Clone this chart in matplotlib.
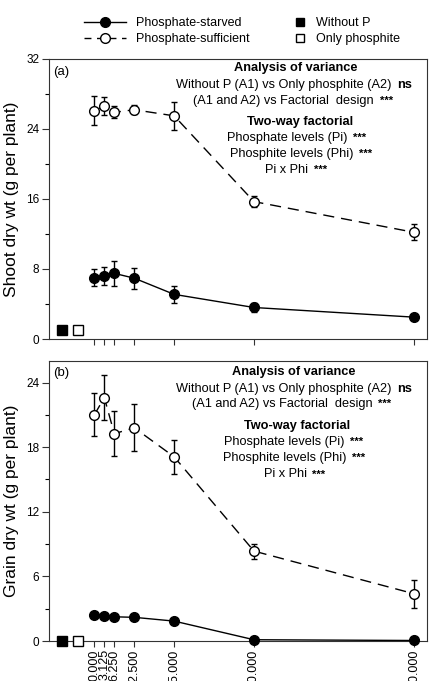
import matplotlib
matplotlib.use("Agg")
import matplotlib.pyplot as plt
from matplotlib.lines import Line2D
from matplotlib.ticker import MultipleLocator

plt.rcParams['font.family'] = ['Liberation Sans', 'DejaVu Sans']

# phosphite levels (x) and control treatments
phi_levels = [0.0, 3.125, 6.25, 12.5, 25.0, 50.0, 100.0]
ctrl_x = [-10.0, -5.0]

# shoot dry weight (g per plant)
shoot_starved = [7.0, 7.2, 7.5, 6.95, 5.1, 3.6, 2.5]
shoot_starved_err = [1.0, 1.0, 1.4, 1.2, 1.0, 0.5, 0.15]
shoot_suff = [26.1, 26.6, 25.9, 26.2, 25.5, 15.7, 12.2]
shoot_suff_err = [1.7, 1.0, 0.7, 0.5, 1.6, 0.6, 0.9]
shoot_ctrl = [1.05, 1.05]
shoot_ctrl_err = [0.1, 0.1]

# grain dry weight (g per plant)
grain_starved = [2.45, 2.35, 2.25, 2.2, 1.85, 0.12, 0.05]
grain_starved_err = [0.1, 0.1, 0.1, 0.15, 0.3, 0.05, 0.03]
grain_suff = [21.0, 22.6, 19.25, 19.8, 17.1, 8.35, 4.4]
grain_suff_err = [2.0, 2.1, 2.1, 2.2, 1.6, 0.7, 1.3]
grain_ctrl = [0.0, 0.0]

tick_labels = ['%.3f' % v for v in phi_levels]

fig = plt.figure(figsize=(4.33, 6.81), dpi=100)
ax_a = fig.add_axes([0.1132, 0.5022, 0.873, 0.4112])
ax_b = fig.add_axes([0.1132, 0.0587, 0.873, 0.4112])


def draw_panel(ax, starved, s_err, suff, f_err, ctrl, c_err):
    ax.errorbar(phi_levels, starved, yerr=s_err, fmt='-o', color='black', lw=1,
                ms=7, mfc='black', mec='black', capsize=2.5, elinewidth=1,
                capthick=1, clip_on=False, zorder=3)
    ax.errorbar(phi_levels, suff, yerr=f_err, fmt='o', color='black', lw=1,
                ms=7, mfc='white', mec='black', mew=1, capsize=2.5,
                elinewidth=1, capthick=1, clip_on=False, zorder=4)
    ax.plot(phi_levels, suff, color='black', lw=1, dashes=(8, 5), zorder=2)
    ax.errorbar(ctrl_x[0], ctrl[0], yerr=c_err[0] if c_err else None, fmt='s',
                color='black', ms=6.5, mfc='black', capsize=2.5, clip_on=False, zorder=4)
    ax.errorbar(ctrl_x[1], ctrl[1], yerr=c_err[1] if c_err else None, fmt='s',
                color='black', ms=6.5, mfc='white', mew=1, capsize=2.5,
                clip_on=False, zorder=4)
    ax.set_xlim(-14.2, 104.2)
    ax.set_xticks(phi_levels)
    for sp in ax.spines.values():
        sp.set_linewidth(0.8)
        sp.set_color('#333333')
    ax.tick_params(axis='both', direction='out', length=5, width=0.8,
                   labelsize=8.5, pad=2, color='#333333')
    ax.tick_params(axis='y', which='minor', direction='out', length=3, width=0.8)
    ax.tick_params(axis='x', length=4.5, pad=1.5, labelsize=9)


def anova_text(ax, pos):
    fs = 9.2
    ax.text(pos[0][0], pos[0][1], 'Analysis of variance', transform=ax.transAxes,
            ha='center', va='center', fontsize=fs, fontweight='bold')
    lines = [
        ('Without P (A1) vs Only phosphite (A2)', 'ns'),
        ('(A1 and A2) vs Factorial  design', '***'),
        (None, None),
        ('Phosphate levels (Pi)', '***'),
        ('Phosphite levels (Phi)', '***'),
        ('Pi x Phi', '***'),
    ]
    for (txt, suf), (x, y) in zip(lines, pos[1:]):
        if txt is None:
            ax.text(x, y, 'Two-way factorial', transform=ax.transAxes,
                    ha='center', va='center', fontsize=fs, fontweight='bold')
            continue
        t = ax.text(x, y, txt, transform=ax.transAxes, ha='right', va='center',
                    fontsize=fs)
        ax.annotate(suf, xy=(1, 0.5), xycoords=t, xytext=(4, 0),
                    textcoords='offset points', ha='left', va='center',
                    fontsize=fs if suf == 'ns' else 8, fontweight='bold')


draw_panel(ax_a, shoot_starved, shoot_starved_err, shoot_suff, shoot_suff_err,
           shoot_ctrl, shoot_ctrl_err)
ax_a.set_ylim(0, 32)
ax_a.yaxis.set_major_locator(MultipleLocator(8))
ax_a.yaxis.set_minor_locator(MultipleLocator(4))
ax_a.set_xticklabels([])
ax_a.set_ylabel('Shoot dry wt (g per plant)', fontsize=12.5, labelpad=5)
ax_a.text(0.012, 0.955, '(a)', transform=ax_a.transAxes, fontsize=9.5,
          ha='left', va='center')
anova_text(ax_a, [(0.652, 0.967), (0.905, 0.907), (0.860, 0.851),
                  (0.663, 0.776), (0.790, 0.718), (0.805, 0.661), (0.685, 0.604)])

draw_panel(ax_b, grain_starved, grain_starved_err, grain_suff, grain_suff_err,
           grain_ctrl, None)
ax_b.set_ylim(0, 26)
ax_b.yaxis.set_major_locator(MultipleLocator(6))
ax_b.yaxis.set_minor_locator(MultipleLocator(3))
ax_b.set_xticklabels(tick_labels, rotation=90)
ax_b.set_ylabel('Grain dry wt (g per plant)', fontsize=12.5, labelpad=5)
ax_b.text(0.012, 0.958, '(b)', transform=ax_b.transAxes, fontsize=9.5,
          ha='left', va='center')
anova_text(ax_b, [(0.648, 0.960), (0.905, 0.900), (0.855, 0.846),
                  (0.655, 0.768), (0.782, 0.712), (0.788, 0.655), (0.682, 0.595)])

# legends at the top
h_starved = Line2D([], [], color='black', lw=1, marker='o', ms=7, mfc='black')
h_suff = Line2D([], [], color='black', lw=1, marker='o', ms=7, mfc='white',
                dashes=(5, 4))
fig.legend([h_starved, h_suff], ['Phosphate-starved', 'Phosphate-sufficient'],
           loc='center left', bbox_to_anchor=(0.194, 1 - 31 / 681),
           frameon=False, fontsize=9, handlelength=3.36, handletextpad=0.8,
           labelspacing=0.3, borderpad=0, borderaxespad=0)
h_nop = Line2D([], [], color='black', ls='none', marker='s', ms=6, mfc='black')
h_phi = Line2D([], [], color='black', ls='none', marker='s', ms=6, mfc='white')
fig.legend([h_nop, h_phi], ['Without P', 'Only phosphite'],
           loc='center left', bbox_to_anchor=(0.678, 1 - 31 / 681),
           frameon=False, fontsize=9, handlelength=1.0, handletextpad=0.78,
           labelspacing=0.3, borderpad=0, borderaxespad=0)

fig.savefig('out.png', dpi=100)
